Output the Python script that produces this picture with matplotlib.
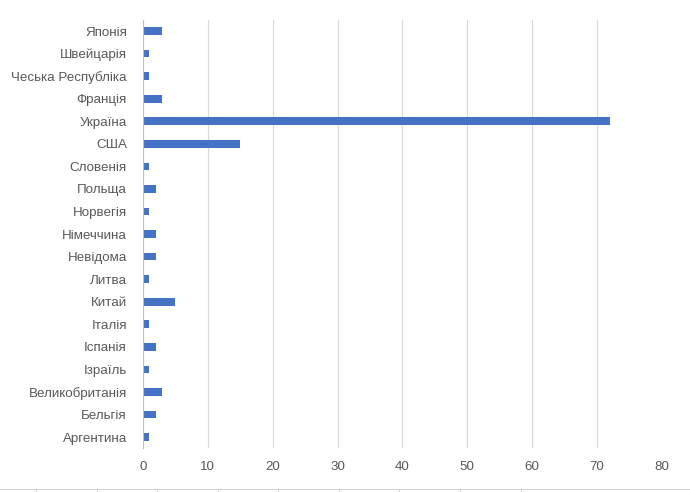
import matplotlib.pyplot as plt
import numpy as np

plt.rcParams['font.family'] = ['Liberation Sans', 'DejaVu Sans']

# Countries (bottom to top as drawn)
countries = ['Аргентина', 'Бельгія', 'Великобританія', 'Ізраїль', 'Іспанія',
             'Італія', 'Китай', 'Литва', 'Невідома', 'Німеччина', 'Норвегія',
             'Польща', 'Словенія', 'США', 'Україна', 'Франція',
             'Чеська Республіка', 'Швейцарія', 'Японія']
counts = [1, 2, 3, 1, 2, 1, 5, 1, 2, 2, 1, 2, 1, 15, 72, 3, 1, 1, 3]

x_ticks = np.arange(0, 90, 10)

fig = plt.figure(figsize=(6.9, 4.92), dpi=100)
ax = fig.add_axes([0.2072, 0.0888, 0.7522, 0.871])

pos = np.arange(len(countries))
ax.barh(pos, counts, height=0.34, color='#4472C4', zorder=3)

ax.set_yticks(pos)
ax.set_yticklabels(countries)
ax.set_ylim(-0.5, len(countries) - 0.5)
ax.set_xlim(0, 80)
ax.set_xticks(x_ticks)

ax.grid(axis='x', color='#D9D9D9', linewidth=0.8, zorder=0)
for s in ['top', 'right', 'bottom']:
    ax.spines[s].set_visible(False)
ax.spines['left'].set_color('#BFBFBF')
ax.spines['left'].set_linewidth(0.8)
ax.spines['left'].set_zorder(4)

ax.tick_params(axis='both', length=0, labelsize=9.6, colors='#595959')
ax.tick_params(axis='y', pad=11.5)
ax.tick_params(axis='x', pad=9)

# spreadsheet cell border visible along the bottom of the screenshot
fig.add_artist(plt.Line2D([0, 1], [0.006, 0.006], color='#D4D4D4', linewidth=0.8))
for xc in [36, 97, 157, 218, 278, 339, 399, 460, 521]:
    fig.add_artist(plt.Line2D([xc / 690, xc / 690], [0, 0.006], color='#D4D4D4', linewidth=0.8))

plt.savefig('out.png', dpi=100)
